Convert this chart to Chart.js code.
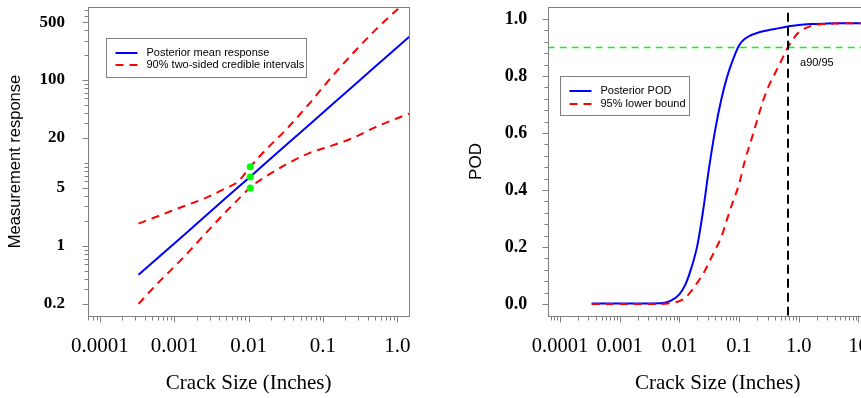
<!DOCTYPE html>
<html>
<head>
<meta charset="utf-8">
<title>Crack size response and POD</title>
<script src="https://cdn.jsdelivr.net/npm/chart.js@4.4.1/dist/chart.umd.min.js"></script>
<style>
  html, body { margin: 0; padding: 0; background: #fff; overflow: hidden; }
  canvas { position: absolute; top: 0; }
  #chartResp { left: 0; }
  #chartPod { left: 430px; }
</style>
</head>
<body>
<canvas id="chartResp" width="430" height="398"></canvas>
<canvas id="chartPod" width="470" height="398"></canvas>
<script>
// left panel: measurement response vs crack size
const respSize = [0.00033, 0.00063, 0.00126, 0.00251, 0.00501, 0.00708, 0.0105, 0.0158, 0.0316, 0.0631, 0.126, 0.251, 0.501, 1.0, 1.445];
const meanResp = [0.448, 0.745, 1.285, 2.22, 3.83, 5.02, 6.84, 9.48, 16.4, 28.2, 48.6, 83.9, 144.5, 249, 333];
const upperCI = [1.86, 2.32, 2.95, 3.72, 5.01, 5.89, 9.0, 13.5, 25.1, 50.1, 105, 209, 398, 708, 933];
const lowerCI = [0.2, 0.372, 0.692, 1.35, 2.62, 3.57, 5.08, 6.6, 9.55, 13.0, 16.0, 20.0, 26.9, 34.7, 39.4];
const designSize = [0.0105, 0.0105, 0.0105];
const designResp = [9.0, 6.8, 5.0];

const respXTicks = [0.0001, 0.001, 0.01, 0.1, 1];
const respXLabels = ["0.0001", "0.001", "0.01", "0.1", "1.0"];
const respYTicks = [0.2, 1, 5, 20, 100, 500];
const respYLabels = ["0.2", "1", "5", "20", "100", "500"];

// right panel: POD curve
const podSize = [0.000339, 0.00158, 0.00501, 0.00708, 0.01, 0.0126, 0.0158, 0.02, 0.0251, 0.0316, 0.0398, 0.0501, 0.0631, 0.0794, 0.1, 0.126, 0.158, 0.2, 0.251, 0.316, 0.398, 0.501, 0.631, 0.794, 1.0, 1.58, 2.51, 3.98, 6.31, 10, 15.8];
const podMean = [0.002, 0.002, 0.003, 0.011, 0.034, 0.068, 0.125, 0.205, 0.33, 0.48, 0.61, 0.715, 0.797, 0.858, 0.907, 0.931, 0.943, 0.951, 0.957, 0.961, 0.965, 0.969, 0.973, 0.976, 0.979, 0.982, 0.983, 0.985, 0.985, 0.985, 0.985];
const podLower = [0.0, 0.0, 0.0, 0.003, 0.01, 0.022, 0.045, 0.075, 0.106, 0.147, 0.19, 0.233, 0.298, 0.36, 0.42, 0.505, 0.571, 0.643, 0.711, 0.766, 0.808, 0.85, 0.893, 0.928, 0.953, 0.975, 0.982, 0.984, 0.985, 0.985, 0.985];
const podTarget = 0.9;
const a9095 = 0.662;

const podXTicks = [0.0001, 0.001, 0.01, 0.1, 1, 10];
const podXLabels = ["0.0001", "0.001", "0.01", "0.1", "1.0", "10"];
const podYTicks = [0, 0.2, 0.4, 0.6, 0.8, 1.0];
const podYLabels = ["0.0", "0.2", "0.4", "0.6", "0.8", "1.0"];

const BLUE = "#0000ff", RED = "#ff0000", GREEN = "#00ff00";
const SERIF = "'Liberation Serif', 'Times New Roman', serif";
const SANS = "'Liberation Sans', Arial, sans-serif";

function pts(xs, ys) {
  return xs.map((x, i) => ({ x, y: ys[i] }));
}

function logTicks(min, max) {
  const out = [];
  for (let e = Math.floor(Math.log10(min)); e <= Math.ceil(Math.log10(max)); e++) {
    for (let m = 1; m <= 9; m++) {
      const v = parseFloat((m * Math.pow(10, e)).toPrecision(6));
      if (v >= min && v <= max) out.push({ value: v });
    }
  }
  return out;
}

function stepTicks(from, to, step) {
  const out = [];
  const n = Math.round((to - from) / step);
  for (let i = 0; i <= n; i++) out.push({ value: Math.round((from + i * step) * 1e6) / 1e6 });
  return out;
}

function labelFrom(values, labels) {
  return v => {
    const i = values.findIndex(t => Math.abs(t - v) <= 1e-9 + 1e-6 * Math.abs(t));
    return i < 0 ? "" : labels[i];
  };
}

// R-like frame, tick marks, boxed legend and text note
const rPlot = {
  id: "rPlot",
  afterDatasetsDraw(chart, args, opts) {
    const { ctx, chartArea: a } = chart;
    const L = Math.round(a.left) + 0.5, R = Math.round(a.right) + 0.5;
    const T = Math.round(a.top) + 0.5, B = Math.round(a.bottom) + 0.5;
    ctx.save();
    ctx.strokeStyle = "#808080";
    ctx.lineWidth = 1;
    ctx.setLineDash([]);
    ctx.strokeRect(L, T, R - L, B - T);

    ctx.beginPath();
    const xs = chart.scales.x, ys = chart.scales.y;
    xs.ticks.forEach(t => {
      const p = Math.round(xs.getPixelForValue(t.value)) + 0.5;
      const len = t.label ? 6 : 4;
      ctx.moveTo(p, B); ctx.lineTo(p, B + len);
    });
    ys.ticks.forEach(t => {
      const p = Math.round(ys.getPixelForValue(t.value)) + 0.5;
      const len = t.label ? 6 : 4;
      ctx.moveTo(L, p); ctx.lineTo(L - len, p);
    });
    ctx.stroke();

    const lg = opts.legend;
    if (lg) {
      const x0 = Math.round(a.left + lg.dx) + 0.5, y0 = Math.round(a.top + lg.dy) + 0.5;
      ctx.fillStyle = "#fff";
      ctx.fillRect(x0, y0, lg.w, lg.h);
      ctx.strokeStyle = "#808080";
      ctx.strokeRect(x0, y0, lg.w, lg.h);
      ctx.font = "11px " + SANS;
      ctx.textBaseline = "middle";
      lg.rows.forEach((idx, i) => {
        const ds = chart.data.datasets[idx];
        const y = Math.round(y0 + lg.first + i * lg.gap);
        ctx.strokeStyle = ds.borderColor;
        ctx.lineWidth = 2;
        ctx.setLineDash(ds.borderDash || []);
        ctx.beginPath();
        ctx.moveTo(x0 + 9, y); ctx.lineTo(x0 + 31, y);
        ctx.stroke();
        ctx.fillStyle = "#000";
        ctx.fillText(ds.label, x0 + 40, y);
      });
    }

    const nt = opts.note;
    if (nt) {
      ctx.font = "11px " + SANS;
      ctx.fillStyle = "#000";
      ctx.textBaseline = "middle";
      ctx.fillText(nt.text, xs.getPixelForValue(nt.x) + nt.dx, ys.getPixelForValue(nt.y) + nt.dy);
    }
    ctx.restore();
  }
};

Chart.defaults.color = "#000";
Chart.defaults.font.family = SANS;

function axis(type, min, max, ticksFn, labelFn, fit, font, pad, title) {
  return {
    type, min, max, bounds: "data",
    afterBuildTicks: s => { s.ticks = ticksFn(s.min, s.max); },
    afterFit: s => {
      fit(s);
      s.paddingTop = 0; s.paddingBottom = 0; s.paddingLeft = 0; s.paddingRight = 0;
    },
    grid: { display: false, drawTicks: false },
    border: { display: false },
    ticks: { autoSkip: false, maxRotation: 0, padding: pad, font, color: "#000", callback: labelFn },
    title
  };
}

const common = {
  responsive: false,
  animation: false,
  events: [],
  elements: { point: { radius: 0 }, line: { borderWidth: 2 } },
};

new Chart(document.getElementById("chartResp"), {
  type: "line",
  data: {
    datasets: [
      { label: "Posterior mean response", data: pts(respSize, meanResp), borderColor: BLUE, borderWidth: 2, clip: 0, order: 3 },
      { label: "90% two-sided credible intervals", data: pts(respSize, upperCI), borderColor: RED, borderDash: [8, 6], borderWidth: 2, cubicInterpolationMode: "monotone", clip: 0, order: 2 },
      { label: "90% lower", data: pts(respSize, lowerCI), borderColor: RED, borderDash: [8, 6], borderWidth: 2, cubicInterpolationMode: "monotone", clip: 0, order: 2 },
      { label: "Design points", data: pts(designSize, designResp), showLine: false, pointRadius: 3.5, pointBackgroundColor: GREEN, pointBorderWidth: 0, clip: 0, order: 1 }
    ]
  },
  options: {
    ...common,
    layout: { padding: { top: 7.3, right: 20.7, left: 0, bottom: 0 } },
    plugins: {
      legend: { display: false }, tooltip: { enabled: false },
      rPlot: { legend: { dx: 18, dy: 30.4, w: 200, h: 39, first: 14, gap: 12.8, rows: [0, 1] } }
    },
    scales: {
      x: axis("logarithmic", 6.9e-5, 1.449, logTicks, labelFrom(respXTicks, respXLabels),
        s => { s.height = 82.3; }, { family: SERIF, size: 21 }, 18.4,
        { display: true, text: "Crack Size (Inches)", font: { family: SERIF, size: 21 }, padding: { top: 0, bottom: 2.4 } }),
      y: axis("logarithmic", 0.144, 755, logTicks, labelFrom(respYTicks, respYLabels),
        s => { s.width = 88; }, { family: SERIF, size: 17, weight: "bold" }, 23,
        { display: true, text: "Measurement response", font: { family: SANS, size: 16.5 }, padding: { top: 5.6, bottom: 0 } })
    }
  },
  plugins: [rPlot]
});

const podXMin = 6.22e-5, podXMax = 31.0, podYMin = -0.041, podYMax = 1.041;

new Chart(document.getElementById("chartPod"), {
  type: "line",
  data: {
    datasets: [
      { label: "Posterior POD", data: pts(podSize, podMean), borderColor: BLUE, borderWidth: 2, cubicInterpolationMode: "monotone", clip: 0, order: 4 },
      { label: "95% lower bound", data: pts(podSize, podLower), borderColor: RED, borderDash: [8, 6], borderWidth: 2, cubicInterpolationMode: "monotone", clip: 0, order: 3 },
      { label: "POD 0.90", data: pts([podXMin, podXMax], [podTarget, podTarget]), borderColor: GREEN, borderDash: [7, 5], borderWidth: 1.5, clip: 0, order: 2 },
      { label: "a90/95", data: pts([a9095, a9095], [podYMin, podYMax]), borderColor: "#000", borderDash: [9, 5], borderWidth: 2, clip: 0, order: 1 }
    ]
  },
  options: {
    ...common,
    layout: { padding: { top: 7.3, right: 12.3, left: 0, bottom: 0 } },
    plugins: {
      legend: { display: false }, tooltip: { enabled: false },
      rPlot: {
        legend: { dx: 12.3, dy: 69, w: 129, h: 39, first: 14, gap: 13, rows: [0, 1] },
        note: { text: "a90/95", x: a9095, y: podTarget, dx: 12, dy: 15 }
      }
    },
    scales: {
      x: axis("logarithmic", podXMin, podXMax, logTicks, labelFrom(podXTicks, podXLabels),
        s => { s.height = 82.3; }, { family: SERIF, size: 20.5 }, 18.6,
        { display: true, text: "Crack Size (Inches)", font: { family: SERIF, size: 21 }, padding: { top: 0, bottom: 2.4 } }),
      y: axis("linear", podYMin, podYMax, () => stepTicks(0, 1, 0.04), labelFrom(podYTicks, podYLabels),
        s => { s.width = 117.7; }, { family: SERIF, size: 18, weight: "bold" }, 20.4,
        { display: true, text: "POD", font: { family: SANS, size: 17 }, padding: { top: 35.9, bottom: 0 } })
    }
  },
  plugins: [rPlot]
});
</script>
</body>
</html>
